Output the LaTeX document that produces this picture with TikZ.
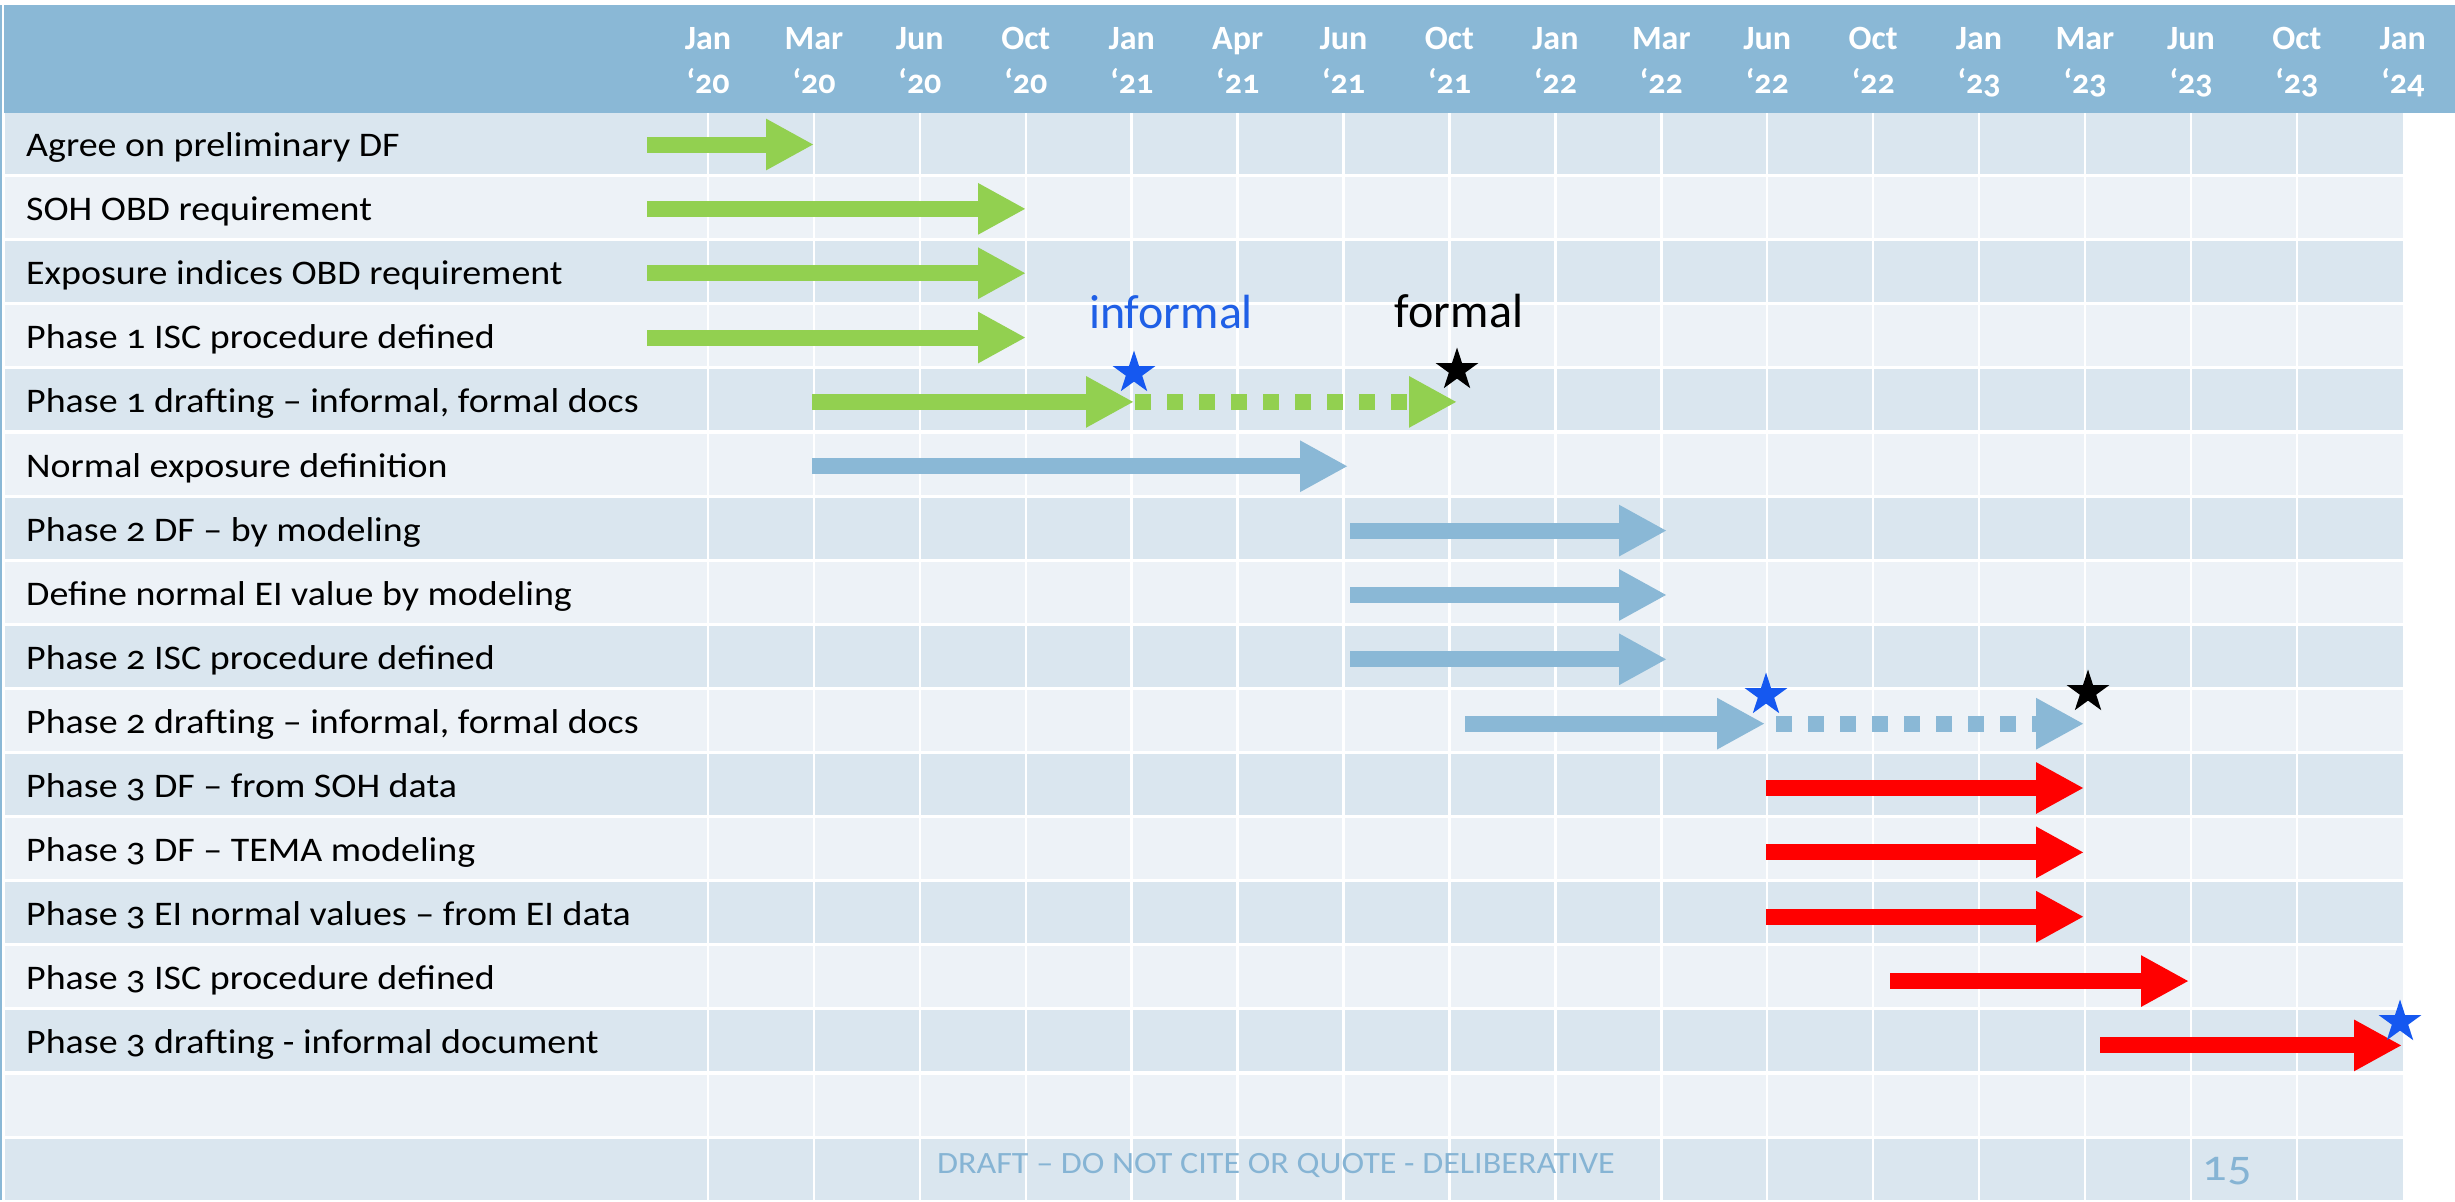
\documentclass[tikz,border=0pt]{standalone}
\usepackage{fontspec}
\setmainfont{Carlito}
\newfontfamily\labfont[Numbers=OldStyle,FakeStretch=1.1]{Carlito}
\newfontfamily\hdrfont[Numbers=OldStyle]{Carlito}
\usetikzlibrary{arrows.meta,shapes.geometric}
\definecolor{hdrblue}{HTML}{8AB8D6}
\definecolor{rowdark}{HTML}{DAE6EF}
\definecolor{rowlight}{HTML}{EDF2F7}
\definecolor{gbar}{HTML}{92D050}
\definecolor{bbar}{HTML}{8AB8D6}
\definecolor{rbar}{HTML}{FF0000}
\definecolor{starblue}{HTML}{1558F0}
\definecolor{infblue}{HTML}{1F5FE6}
\definecolor{footblue}{HTML}{86B4D4}
\begin{document}
\begin{tikzpicture}[x=1pt,y=-1pt,
  lab/.style={anchor=base west, inner sep=0pt, font={\labfont\fontsize{34.5}{40}\selectfont}, text=black},
  hdr/.style={anchor=base, inner sep=0pt, font={\hdrfont\bfseries\fontsize{34}{40}\selectfont}, text=white},
  bar/.style={line width=16pt, -{Triangle[length=48pt,width=48pt]}},
  dotbar/.style={bar, dash pattern=on 16pt off 16pt},
  mstar/.style={star, star points=5, star point ratio=2.618, minimum size=45pt, inner sep=0pt, draw=none},
  note/.style={anchor=base, inner sep=0pt, font={\fontsize{48}{54}\selectfont}}
]
\useasboundingbox (0,0) rectangle (2455,1202);
\fill[white] (0,0) rectangle (2455,1202);
% left border
\draw[hdrblue, line width=2pt] (1,5) -- (1,1200);
% header band
\fill[hdrblue] (4,5) rectangle (2455,113);
% rows
\foreach \i in {1,...,17}{
  \pgfmathsetmacro\t{113+(\i-1)*64.1}
  \ifodd\i
    \fill[rowdark] (5,\t) rectangle (2403,\t+61);
  \else
    \fill[rowlight] (5,\t) rectangle (2403,\t+61);
  \fi
}
% vertical grid lines
\foreach \k in {0,...,15}{
  \draw[white, line width=2.5pt] ({708+105.92*\k},113) -- ({708+105.92*\k},1200);
}
% header labels
\foreach \m/\yy [count=\k from 0] in {Jan/‘20,Mar/‘20,Jun/‘20,Oct/‘20,Jan/‘21,Apr/‘21,Jun/‘21,Oct/‘21,Jan/‘22,Mar/‘22,Jun/‘22,Oct/‘22,Jan/‘23,Mar/‘23,Jun/‘23,Oct/‘23,Jan/‘24}{
  \node[hdr] (hm\k) at ({708+105.92*\k},49) {\m};
  \node[hdr] (hy\k) at ({708+105.92*\k},93) {\yy};
}
% task labels
\foreach \i/\txt in {1/Agree on preliminary DF,
  2/SOH OBD requirement,
  3/Exposure indices OBD requirement,
  4/Phase 1 ISC procedure defined,
  5/{Phase 1 drafting – informal, formal docs},
  6/Normal exposure definition,
  7/Phase 2 DF – by modeling,
  8/Define normal EI value by modeling,
  9/Phase 2 ISC procedure defined,
  10/{Phase 2 drafting – informal, formal docs},
  11/Phase 3 DF – from SOH data,
  12/Phase 3 DF – TEMA modeling,
  13/Phase 3 EI normal values – from EI data,
  14/Phase 3 ISC procedure defined,
  15/Phase 3 drafting - informal document}{
  \pgfmathsetmacro\yb{143.5+(\i-1)*64.1+13}
  \node[lab] (t\i) at (26,\yb) {\txt};
}
% bars
\foreach \i/\a/\b/\c in {1/647/814/gbar,2/647/1026/gbar,3/647/1026/gbar,4/647/1026/gbar,5/812/1134/gbar,
  6/812/1348/bbar,7/1350/1667/bbar,8/1350/1667/bbar,9/1350/1667/bbar,10/1465/1765/bbar,
  11/1766/2084/rbar,12/1766/2084/rbar,13/1766/2084/rbar,14/1890/2189/rbar,15/2100/2402/rbar}{
  \pgfmathsetmacro\yy{144.5+(\i-1)*64.35}
  \coordinate (s\i) at (\a,\yy);
  \coordinate (e\i) at (\b,\yy);
  \draw[bar, draw=\c] (s\i) -- (e\i);
}
% dotted continuations
\coordinate (d5s) at (1135,401.9);
\coordinate (d5e) at (1457,401.9);
\draw[dotbar, draw=gbar] (d5s) -- (d5e);
\coordinate (d10s) at (1776,723.7);
\coordinate (d10e) at (2084,723.7);
\draw[dotbar, draw=bbar] (d10s) -- (d10e);
% stars
\node[mstar, fill=starblue] (st1) at (1134,373) {};
\node[mstar, fill=black] (st2) at (1457,370) {};
\node[mstar, fill=starblue] (st3) at (1766,695) {};
\node[mstar, fill=black] (st4) at (2088,692) {};
\node[mstar, fill=starblue] (st5) at (2400,1022) {};
% notes
\node[note, text=infblue] (inf) at (1171,328) {informal};
\node[note, text=black] (frm) at (1459,327) {formal};
% footer
\node[anchor=base, inner sep=0pt, text=footblue, font={\labfont\fontsize{31}{36}\selectfont}] (foot) at (1276,1173) {DRAFT – DO NOT CITE OR QUOTE - DELIBERATIVE};
\node[anchor=base, inner sep=0pt, text=footblue, font={\labfont\fontsize{44}{50}\selectfont}] (pg) at (2227,1180) {15};
\end{tikzpicture}
\end{document}
